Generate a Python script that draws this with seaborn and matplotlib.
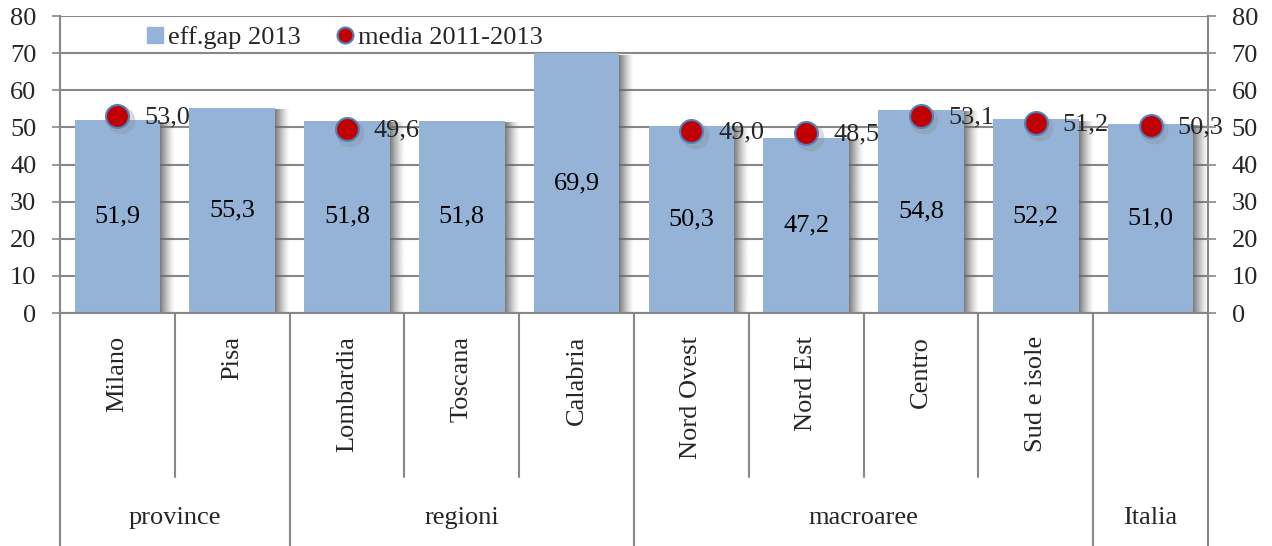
import numpy as np
import pandas as pd
import matplotlib
matplotlib.use("Agg")
import matplotlib.pyplot as plt
import matplotlib.transforms as mtransforms
from matplotlib.lines import Line2D
import seaborn as sns

# --- data -------------------------------------------------------------
categories = ["Milano", "Pisa", "Lombardia", "Toscana", "Calabria",
              "Nord Ovest", "Nord Est", "Centro", "Sud e isole", ""]
groups = ["province", "province", "regioni", "regioni", "regioni",
          "macroaree", "macroaree", "macroaree", "macroaree", "Italia"]
eff_gap_2013 = [51.9, 55.3, 51.8, 51.8, 69.9, 50.3, 47.2, 54.8, 52.2, 51.0]
media_2011_2013 = [53.0, np.nan, 49.6, np.nan, np.nan, 49.0, 48.5, 53.1, 51.2, 50.3]
y_ticks = [0, 10, 20, 30, 40, 50, 60, 70, 80]

BAR = "#95B3D7"
DOT = "#C00000"
DOT_EDGE = "#4F81BD"
GRID = "#878787"

sns.set_theme(style="white")
plt.rcParams["font.family"] = ["Liberation Serif", "DejaVu Serif"]
FS = 19

def it(v):
    return f"{v:.1f}".replace(".", ",")

df = pd.DataFrame({"cat": [f"c{i}" for i in range(len(categories))],
                   "eff": eff_gap_2013, "media": media_2011_2013})
order = list(df["cat"])

fig = plt.figure(figsize=(12.72, 5.46), dpi=100)
ax = fig.add_axes([60 / 1272, (546 - 313) / 546, 1148 / 1272, 297 / 546])

bar_w = 0.745
sns.barplot(data=df, x="cat", y="eff", order=order, color=BAR, width=bar_w,
            saturation=1, ax=ax, zorder=2, edgecolor="none")

# soft shadow on the right side of each bar
grad = np.zeros((1, 64, 4))
grad[..., :3] = 0.4
grad[..., 3] = np.linspace(0.9, 0.0, 64) ** 1.3
for i, v in enumerate(eff_gap_2013):
    x0 = i + bar_w / 2
    ax.imshow(grad, extent=[x0, x0 + 0.13, 0, v - 0.6], aspect="auto",
              interpolation="bilinear", zorder=1)

# labels inside bars
ax.bar_label(ax.containers[0], labels=[it(v) for v in eff_gap_2013],
             label_type="center", fontsize=FS, color="black", zorder=5)

# average markers with faint drop shadow
xs = np.arange(len(categories))
mv = np.array(media_2011_2013, dtype=float)
ok = ~np.isnan(mv)
ax.scatter(xs[ok] + 0.03, mv[ok] - 1.1, s=400, color="#8a8a8a", alpha=0.3,
           linewidths=0, zorder=3)
sns.stripplot(data=df, x="cat", y="media", order=order, jitter=False,
              size=16.5, color=DOT, edgecolor=DOT_EDGE, linewidth=1.5,
              ax=ax, zorder=4)
for x, v in zip(xs[ok], mv[ok]):
    ax.text(x + 0.235, v - 0.3, it(v), fontsize=FS, ha="left", va="center",
            zorder=6)

# axes styling
ax.set_xlim(-0.5, len(categories) - 0.5)
ax.set_ylim(0, 80)
ax.set_yticks(y_ticks)
ax.set_yticklabels([str(t) for t in y_ticks])
ax.set_xticks([])
ax.set_xlabel("")
ax.set_ylabel("")
ax.yaxis.grid(True, color=GRID, linewidth=1.5)
ax.set_axisbelow(True)
for gl in ax.get_ygridlines():
    gl.set_zorder(1.5)
ax.tick_params(axis="y", left=True, right=True, labelleft=True,
               labelright=True, length=6, width=1.2, color=GRID,
               labelsize=FS, pad=11, direction="out")
for side in ["left", "right", "bottom"]:
    ax.spines[side].set_visible(True)
    ax.spines[side].set_color(GRID)
    ax.spines[side].set_linewidth(1.5)
ax.spines["top"].set_visible(False)

# two-level category table under the axis
trans = mtransforms.blended_transform_factory(ax.transData, ax.transAxes)
y_short = (313 - 477) / 297
y_long = (313 - 546) / 297
bounds = np.arange(len(categories) + 1) - 0.5
for k, b in enumerate(bounds):
    left_grp = groups[k - 1] if k > 0 else None
    right_grp = groups[k] if k < len(groups) else None
    y_end = y_short if left_grp == right_grp else y_long
    ax.plot([b, b], [0, y_end], transform=trans, color=GRID, lw=1.5,
            clip_on=False, zorder=1)
for i, name in enumerate(categories):
    ax.text(i, (313 - 336) / 297, name, transform=trans, rotation=90,
            ha="center", va="top", fontsize=FS)
start = 0
for i in range(1, len(groups) + 1):
    if i == len(groups) or groups[i] != groups[start]:
        ax.text((start + i - 1) / 2, (313 - 518) / 297, groups[start],
                transform=trans, ha="center", va="center", fontsize=FS)
        start = i

# legend
handles = [
    Line2D([], [], linestyle="none", marker="s", markersize=11.5,
           markerfacecolor=BAR, markeredgecolor=BAR),
    Line2D([], [], linestyle="none", marker="o", markersize=11.5,
           markerfacecolor=DOT, markeredgecolor=DOT_EDGE, markeredgewidth=1.5),
]
ax.legend(handles, ["eff.gap 2013", "media 2011-2013"], loc="center left",
          bbox_to_anchor=(86 / 1148, (313 - 37) / 297), ncol=2, frameon=False,
          fontsize=FS, handlelength=0.7, handletextpad=0.15,
          columnspacing=1.3, borderpad=0, borderaxespad=0)

fig.savefig("out.png", dpi=100)
